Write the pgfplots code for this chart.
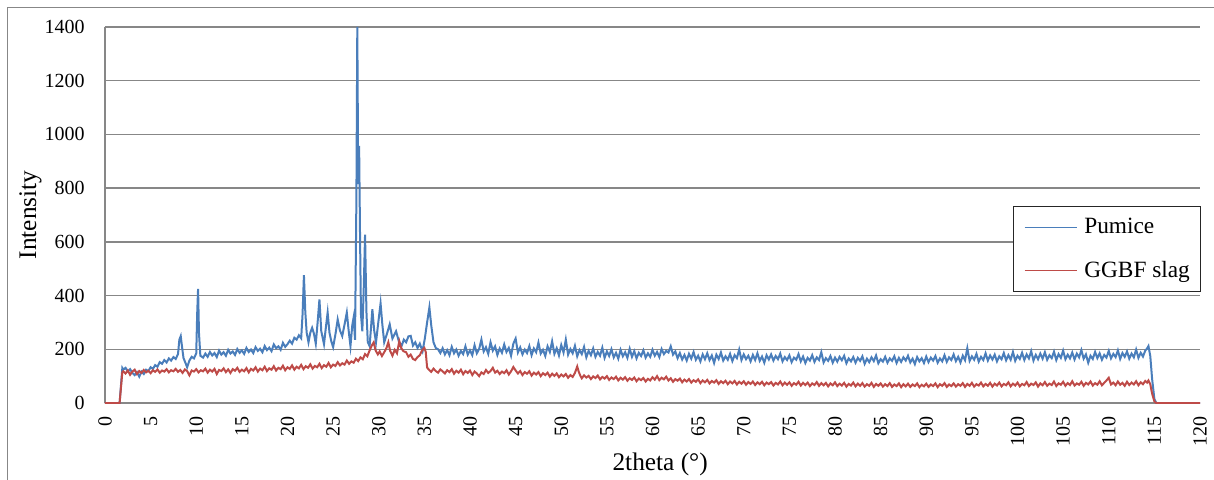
\documentclass[border=0pt]{standalone}
\usepackage{fontspec}
\setmainfont{Liberation Serif}
\usepackage{pgfplots}
\usepackage{pgfplotstable}
\pgfplotsset{compat=1.18}
\definecolor{pumicecolor}{HTML}{4A7EBB}
\definecolor{slagcolor}{HTML}{BE4B48}
\definecolor{gridgray}{HTML}{878787}

% Pumice: 2theta, intensity
\pgfplotstableread{
x y
0 0
1.6 0
1.9 130
2.00 124
2.25 131
2.50 118
2.75 126
3.00 112
3.25 104
3.50 115
3.75 98
4.00 117
4.25 108
4.50 124
4.75 119
5.00 133
5.25 127
5.50 141
5.75 135
6.00 152
6.25 146
6.50 160
6.75 151
7.00 166
7.25 158
7.50 171
7.75 164
8.00 182
8.15 236
8.30 249
8.45 207
8.60 168
8.80 151
9.00 133
9.25 158
9.50 172
9.75 166
10.00 185
10.10 330
10.20 425
10.30 260
10.45 176
10.75 169
11.00 184
11.25 172
11.50 190
11.75 177
12.00 186
12.25 171
12.50 195
12.75 180
13.00 189
13.25 176
13.50 198
13.75 184
14.00 192
14.25 179
14.50 201
14.75 187
15.00 196
15.25 183
15.50 205
15.75 190
16.00 199
16.25 186
16.50 208
16.75 194
17.00 202
17.25 189
17.50 212
17.75 197
18.00 206
18.25 193
18.50 218
18.75 204
19.00 211
19.25 198
19.50 224
19.75 209
20.00 219
20.25 232
20.50 221
20.75 243
21.00 236
21.25 252
21.50 241
21.65 330
21.80 476
21.95 340
22.10 262
22.30 226
22.50 262
22.70 280
22.90 258
23.10 221
23.30 300
23.50 386
23.70 268
24.00 219
24.20 280
24.40 337
24.60 262
24.80 230
25.00 208
25.25 255
25.50 311
25.75 270
26.00 249
26.25 292
26.50 337
26.70 270
26.90 212
27.10 290
27.25 319
27.40 235
27.55 760
27.65 1400
27.75 815
27.85 957
27.95 620
28.05 330
28.20 267
28.35 420
28.50 627
28.65 340
28.80 226
29.00 212
29.15 280
29.30 349
29.50 270
29.70 226
29.95 300
30.20 371
30.40 290
30.60 226
30.90 258
31.20 293
31.50 240
31.90 267
32.20 230
32.50 212
32.75 236
33.00 226
33.25 248
33.50 250
33.75 214
34.00 226
34.25 205
34.50 221
34.80 193
35.05 240
35.30 300
35.55 356
35.75 290
36.00 226
36.25 205
36.50 200
36.75 186
37.00 204
37.25 181
37.50 197
37.75 178
38.00 209
38.25 185
38.50 199
38.75 176
39.00 194
39.25 182
39.50 211
39.75 180
40.00 196
40.25 178
40.50 215
40.75 185
41.00 201
41.25 236
41.50 192
41.75 208
42.00 183
42.25 226
42.50 195
42.75 211
43.00 179
43.25 203
43.50 187
43.75 218
44.00 190
44.25 205
44.50 176
44.75 221
45.00 240
45.25 188
45.50 207
45.75 181
46.00 199
46.25 186
46.50 212
46.75 178
47.00 203
47.25 189
47.50 225
47.75 184
48.00 198
48.25 175
48.50 211
48.75 190
49.00 230
49.25 183
49.50 204
49.75 177
50.00 216
50.25 188
50.50 236
50.75 180
51.00 201
51.25 185
51.50 213
51.75 174
52.00 197
52.25 182
52.50 209
52.75 170
53.00 194
53.25 178
53.50 203
53.75 172
54.00 190
54.25 176
54.50 206
54.75 168
55.00 192
55.25 175
55.50 200
55.75 170
56.00 187
56.25 165
56.50 198
56.75 174
57.00 189
57.25 168
57.50 202
57.75 172
58.00 193
58.25 166
58.50 187
58.75 175
59.00 196
59.25 169
59.50 185
59.75 172
60.00 198
60.25 176
60.50 190
60.75 171
61.00 201
61.25 182
61.50 194
61.75 188
62.00 211
62.25 180
62.50 192
62.75 167
63.00 186
63.25 162
63.50 179
63.75 158
64.00 183
64.25 165
64.50 190
64.75 161
65.00 176
65.25 155
65.50 181
65.75 163
66.00 185
66.25 160
66.50 177
66.75 149
67.00 180
67.25 164
67.50 188
67.75 158
68.00 174
68.25 161
68.50 183
68.75 156
69.00 178
69.25 167
69.50 199
69.75 160
70.00 181
70.25 163
70.50 176
70.75 155
71.00 179
71.25 160
71.50 185
71.75 157
72.00 173
72.25 150
72.50 178
72.75 162
73.00 181
73.25 158
73.50 175
73.75 163
74.00 184
74.25 155
74.50 171
74.75 160
75.00 177
75.25 152
75.50 169
75.75 161
76.00 182
76.25 155
76.50 173
76.75 149
77.00 168
77.25 158
77.50 178
77.75 153
78.00 170
78.25 160
78.50 189
78.75 151
79.00 167
79.25 157
79.50 175
79.75 150
80.00 169
80.25 154
80.50 172
80.75 159
81.00 176
81.25 148
81.50 166
81.75 155
82.00 171
82.25 150
82.50 168
82.75 157
83.00 174
83.25 146
83.50 165
83.75 152
84.00 170
84.25 156
84.50 177
84.75 148
85.00 163
85.25 154
85.50 172
85.75 150
86.00 166
86.25 157
86.50 174
86.75 149
87.00 168
87.25 153
87.50 170
87.75 158
88.00 176
88.25 151
88.50 165
88.75 145
89.00 171
89.25 155
89.50 167
89.75 149
90.00 173
90.25 152
90.50 169
90.75 158
91.00 175
91.25 150
91.50 166
91.75 155
92.00 178
92.25 153
92.50 170
92.75 160
93.00 181
93.25 156
93.50 172
93.75 151
94.00 176
94.25 159
94.50 204
94.75 157
95.00 174
95.25 161
95.50 183
95.75 154
96.00 172
96.25 160
96.50 185
96.75 158
97.00 177
97.25 162
97.50 180
97.75 155
98.00 174
98.25 163
98.50 186
98.75 159
99.00 178
99.25 161
99.50 190
99.75 157
100.00 176
100.25 164
100.50 187
100.75 160
101.00 181
101.25 166
101.50 193
101.75 158
102.00 179
102.25 163
102.50 184
102.75 165
103.00 189
103.25 161
103.50 178
103.75 167
104.00 191
104.25 160
104.50 182
104.75 168
105.00 195
105.25 163
105.50 180
105.75 166
106.00 188
106.25 162
106.50 184
106.75 170
107.00 197
107.25 165
107.50 181
107.75 150
108.00 176
108.25 164
108.50 190
108.75 167
109.00 185
109.25 161
109.50 179
109.75 169
110.00 194
110.25 166
110.50 183
110.75 171
111.00 196
111.25 164
111.50 186
111.75 172
112.00 192
112.25 165
112.50 184
112.75 170
113.00 199
113.25 168
113.50 187
113.75 173
114.00 195
114.20 203
114.35 212
114.55 175
114.75 90
115.00 15
115.20 0
120 0
}\pumicedata

% GGBF slag: 2theta, intensity
\pgfplotstableread{
x y
0 0
1.6 0
1.9 115
2.00 118
2.25 110
2.50 121
2.75 105
3.00 117
3.25 124
3.50 108
3.75 119
4.00 112
4.25 123
4.50 114
4.75 120
5.00 111
5.25 122
5.50 116
5.75 125
6.00 113
6.25 121
6.50 117
6.75 126
7.00 114
7.25 122
7.50 118
7.75 127
8.00 116
8.25 123
8.50 112
8.75 125
9.00 119
9.25 103
9.50 121
9.75 117
10.00 126
10.25 114
10.50 122
10.75 118
11.00 128
11.25 113
11.50 124
11.75 117
12.00 127
12.25 108
12.50 123
12.75 119
13.00 129
13.25 115
13.50 125
13.75 112
14.00 126
14.25 120
14.50 131
14.75 116
15.00 124
15.25 118
15.50 130
15.75 114
16.00 127
16.25 121
16.50 133
16.75 117
17.00 128
17.25 122
17.50 135
17.75 119
18.00 129
18.25 124
18.50 137
18.75 121
19.00 131
19.25 126
19.50 139
19.75 122
20.00 133
20.25 127
20.50 140
20.75 124
21.00 135
21.25 129
21.50 142
21.75 126
22.00 137
22.25 131
22.50 144
22.75 128
23.00 138
23.25 133
23.50 146
23.75 130
24.00 141
24.25 135
24.50 149
24.75 133
25.00 143
25.25 138
25.50 152
25.75 140
26.00 148
26.25 143
26.50 158
26.75 146
27.00 155
27.25 150
27.50 165
27.75 156
28.00 170
28.25 163
28.50 182
28.75 174
29.00 196
29.25 215
29.45 226
29.65 196
29.90 181
30.10 192
30.35 175
30.60 189
30.85 205
31.05 226
31.25 194
31.50 176
31.75 198
32.00 185
32.25 230
32.45 205
32.70 193
33.00 189
33.25 172
33.50 180
33.75 164
34.00 160
34.25 171
34.50 178
34.75 196
35.00 205
35.15 190
35.30 132
35.50 124
35.75 116
36.00 128
36.25 119
36.50 113
36.75 125
37.00 118
37.25 110
37.50 122
37.75 115
38.00 126
38.25 109
38.50 120
38.75 113
39.00 124
39.25 107
39.50 119
39.75 112
40.00 121
40.25 104
40.50 117
40.75 110
41.00 100
41.25 114
41.50 108
41.75 123
42.00 112
42.25 119
42.50 131
42.75 113
43.00 120
43.25 108
43.50 117
43.75 111
44.00 122
44.25 106
44.50 118
44.75 134
45.00 121
45.25 110
45.50 119
45.75 104
46.00 115
46.25 109
46.50 118
46.75 102
47.00 113
47.25 106
47.50 115
47.75 100
48.00 111
48.25 104
48.50 113
48.75 98
49.00 109
49.25 101
49.50 110
49.75 96
50.00 106
50.25 99
50.50 108
50.75 94
51.00 104
51.25 97
51.50 112
51.75 136
51.90 118
52.10 101
52.25 92
52.50 103
52.75 95
53.00 101
53.25 89
53.50 99
53.75 93
54.00 102
54.25 88
54.50 97
54.75 91
55.00 100
55.25 86
55.50 95
55.75 89
56.00 98
56.25 84
56.50 94
56.75 87
57.00 96
57.25 83
57.50 92
57.75 86
58.00 95
58.25 81
58.50 91
58.75 85
59.00 93
59.25 80
59.50 90
59.75 84
60.00 96
60.25 87
60.50 100
60.75 85
61.00 94
61.25 88
61.50 98
61.75 84
62.00 92
62.25 79
62.50 89
62.75 83
63.00 91
63.25 77
63.50 87
63.75 80
64.00 89
64.25 76
64.50 85
64.75 79
65.00 88
65.25 74
65.50 84
65.75 77
66.00 86
66.25 73
66.50 82
66.75 76
67.00 85
67.25 71
67.50 81
67.75 74
68.00 83
68.25 70
68.50 80
68.75 73
69.00 82
69.25 69
69.50 79
69.75 72
70.00 81
70.25 68
70.50 78
70.75 71
71.00 80
71.25 67
71.50 77
71.75 70
72.00 79
72.25 66
72.50 76
72.75 70
73.00 78
73.25 65
73.50 75
73.75 69
74.00 80
74.25 66
74.50 76
74.75 68
75.00 77
75.25 64
75.50 74
75.75 68
76.00 79
76.25 65
76.50 75
76.75 67
77.00 76
77.25 63
77.50 73
77.75 67
78.00 78
78.25 64
78.50 74
78.75 66
79.00 75
79.25 62
79.50 73
79.75 66
80.00 77
80.25 63
80.50 72
80.75 65
81.00 75
81.25 61
81.50 71
81.75 65
82.00 76
82.25 62
82.50 72
82.75 64
83.00 74
83.25 61
83.50 70
83.75 64
84.00 75
84.25 60
84.50 71
84.75 64
85.00 73
85.25 61
85.50 70
85.75 63
86.00 74
86.25 60
86.50 69
86.75 63
87.00 73
87.25 59
87.50 70
87.75 62
88.00 72
88.25 60
88.50 69
88.75 63
89.00 73
89.25 59
89.50 68
89.75 62
90.00 72
90.25 60
90.50 69
90.75 63
91.00 73
91.25 59
91.50 70
91.75 64
92.00 74
92.25 60
92.50 69
92.75 63
93.00 73
93.25 61
93.50 70
93.75 64
94.00 74
94.25 60
94.50 71
94.75 64
95.00 75
95.25 61
95.50 70
95.75 65
96.00 76
96.25 62
96.50 71
96.75 64
97.00 75
97.25 61
97.50 72
97.75 65
98.00 76
98.25 62
98.50 71
98.75 66
99.00 77
99.25 62
99.50 72
99.75 65
100.00 76
100.25 62
100.50 71
100.75 66
101.00 78
101.25 63
101.50 72
101.75 67
102.00 77
102.25 61
102.50 73
102.75 66
103.00 78
103.25 64
103.50 72
103.75 67
104.00 80
104.25 63
104.50 73
104.75 68
105.00 79
105.25 64
105.50 74
105.75 67
106.00 81
106.25 65
106.50 73
106.75 68
107.00 79
107.25 64
107.50 75
107.75 69
108.00 80
108.25 65
108.50 74
108.75 68
109.00 81
109.25 66
109.50 75
109.75 84
110.00 94
110.25 69
110.50 76
110.75 66
111.00 80
111.25 68
111.50 75
111.75 64
112.00 79
112.25 67
112.50 76
112.75 69
113.00 81
113.25 66
113.50 77
113.75 70
114.00 82
114.20 76
114.35 84
114.55 70
114.75 35
115.00 6
115.20 0
120 0
}\slagdata

\begin{document}
\begin{tikzpicture}
\useasboundingbox (-78.75pt,-57pt) rectangle (831.75pt,302.25pt);
% chart area frame (only left and top edges fall inside the picture)
\draw[gridgray, line width=0.75pt] (-72.75pt,-70pt) -- (-72.75pt,296.25pt) -- (845pt,296.25pt);
\begin{axis}[
    at={(0pt,0pt)}, anchor=south west,
    scale only axis,
    width=821.25pt, height=282pt,
    xmin=0, xmax=120, ymin=0, ymax=1400,
    xtick={0,5,...,120},
    ytick={0,200,...,1400},
    axis lines=left,
    axis line style={gridgray, line width=1.1pt, -},
    ymajorgrids,
    major grid style={gridgray, line width=1.1pt},
    major tick length=0pt,
    scaled y ticks=false,
    /pgf/number format/assume math mode=true,
    /pgf/number format/1000 sep={},
    tick label style={font=\fontsize{15}{18}\selectfont},
    x tick label style={rotate=90, anchor=east, inner sep=0pt},
    xticklabel shift=10pt,
    y tick label style={inner sep=0pt},
    yticklabel shift=15pt,
    xlabel={2theta (°)},
    ylabel={Intensity},
    label style={font=\fontsize{19}{22}\selectfont},
    xlabel style={at={(axis description cs:0.507,-0.180)}, anchor=base},
    ylabel style={at={(axis description cs:-0.068,0.50)}, anchor=center, rotate=0},
    legend style={at={(axis description cs:1.001,0.524)}, anchor=north east,
      draw=black!85, fill=white, line width=0.75pt,
      font=\fontsize{17.5}{20}\selectfont,
      inner xsep=8pt, inner ysep=9pt, row sep=19pt,
      nodes={inner sep=0pt}},
    legend cell align=left,
    legend image code/.code={\draw[#1, line width=1pt] (0pt,0pt) -- (39pt,0pt); \path (44pt,0pt);},
]
\addplot[pumicecolor, line width=1.5pt] table[x=x, y=y] {\pumicedata};
\addplot[slagcolor, line width=1.5pt] table[x=x, y=y] {\slagdata};
\legend{Pumice, GGBF slag}
\end{axis}
\end{tikzpicture}
\end{document}
